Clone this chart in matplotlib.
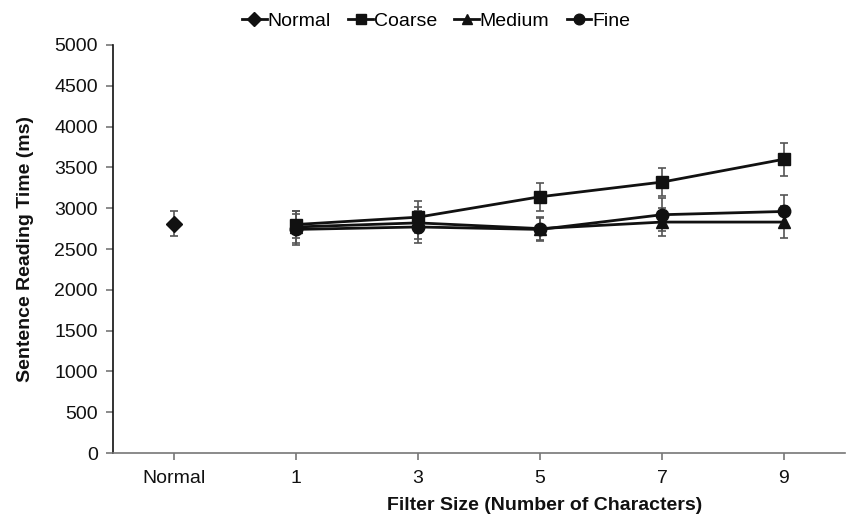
import numpy as np
import matplotlib
matplotlib.use("Agg")
import matplotlib.pyplot as plt
from matplotlib.lines import Line2D

plt.rcParams['font.family'] = ['Liberation Sans', 'DejaVu Sans']

categories = ["Normal", "1", "3", "5", "7", "9"]

normal_mean = [2810]
normal_err = [155]

coarse_mean = [2800, 2890, 3140, 3320, 3600]
coarse_err = [170, 200, 170, 175, 200]
medium_mean = [2770, 2820, 2750, 2830, 2830]
medium_err = [200, 200, 140, 170, 200]
fine_mean = [2740, 2770, 2740, 2920, 2960]
fine_err = [190, 200, 140, 200, 200]

series = ["Normal", "Coarse", "Medium", "Fine"]
markers = ["D", "s", "^", "o"]
msizes = [8, 9, 9, 9]

fig = plt.figure(figsize=(8.47, 5.2), dpi=100)
ax = fig.add_axes([0.1334, 0.1288, 0.8642, 0.7847])

x = np.arange(len(categories))
xf = x[1:]

ekw = dict(ecolor="#555555", elinewidth=1.2, capsize=3, capthick=1.2)
ax.errorbar(x[:1], normal_mean, yerr=normal_err, color="#111111", marker=markers[0],
            markersize=msizes[0], lw=2, **ekw)
ax.errorbar(xf, coarse_mean, yerr=coarse_err, color="#111111", marker=markers[1],
            markersize=msizes[1], lw=2, **ekw)
ax.errorbar(xf, medium_mean, yerr=medium_err, color="#111111", marker=markers[2],
            markersize=msizes[2], lw=2, **ekw)
ax.errorbar(xf, fine_mean, yerr=fine_err, color="#111111", marker=markers[3],
            markersize=msizes[3], lw=2, **ekw)

ax.set_xlim(-0.5, len(categories) - 0.5)
ax.set_ylim(0, 5000)
ax.set_yticks(np.arange(0, 5001, 500))
ax.set_xticks(x)
ax.set_xticklabels(categories)

for s in ["top", "right"]:
    ax.spines[s].set_visible(False)
ax.spines["left"].set_color("#111111")
ax.spines["bottom"].set_color("#777777")
ax.spines["left"].set_linewidth(1.2)
ax.spines["bottom"].set_linewidth(1.2)
ax.tick_params(axis="both", labelsize=14, colors="#777777", labelcolor="#111111",
               length=5, width=1.2)
ax.tick_params(axis="x", pad=7)
ax.tick_params(axis="y", pad=6)

ax.set_xlabel("Filter Size (Number of Characters)", fontsize=14, fontweight="bold",
              color="#111111")
ax.xaxis.set_label_coords(0.59, -0.108)
ax.set_ylabel("Sentence Reading Time (ms)", fontsize=14, fontweight="bold",
              color="#111111")
ax.yaxis.set_label_coords(-0.108, 0.5)

handles = [Line2D([], [], color="#111111", lw=2, marker=m, markersize=ms * 0.85)
           for m, ms in zip(markers, msizes)]
fig.legend(handles, series, loc="upper center", bbox_to_anchor=(0.515, 1.01), ncol=4,
           frameon=False, fontsize=14, handlelength=1.25, handletextpad=0.05,
           columnspacing=0.9)

plt.savefig("out.png", dpi=100)
